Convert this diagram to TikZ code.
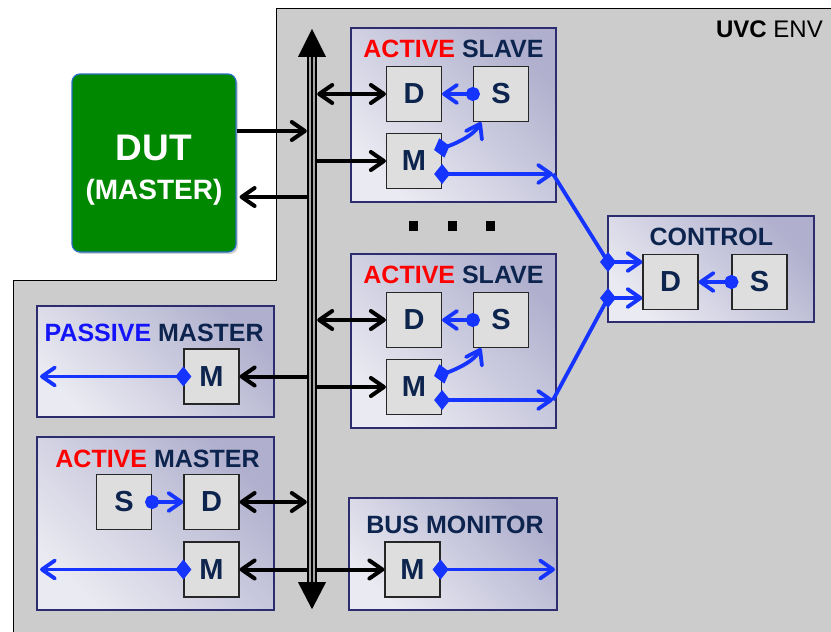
\documentclass[tikz,border=0pt]{standalone}
\usepackage{fontspec}
\setmainfont{Liberation Sans}
\usetikzlibrary{arrows.meta, shadows}
\definecolor{envgray}{RGB}{204,204,204}
\definecolor{navy}{RGB}{12,36,78}
\definecolor{framec}{RGB}{44,44,110}
\definecolor{lavlo}{RGB}{234,234,242}
\definecolor{lavhi}{RGB}{176,176,206}
\definecolor{unitc}{RGB}{222,222,222}
\definecolor{wireblue}{RGB}{22,52,255}
\definecolor{pasblue}{RGB}{20,20,250}
\definecolor{dutgreen}{RGB}{0,136,0}
\definecolor{dutedge}{RGB}{40,110,200}
\tikzset{
  frame/.style={draw=framec, line width=2.5pt, top color=lavhi, bottom color=lavlo, shading angle=-45, inner sep=0pt},
  unit/.style={draw=black!85, line width=1.2pt, fill=unitc, minimum width=55pt, minimum height=55pt, inner sep=0pt, text=navy, font=\fontsize{29}{32}\selectfont\bfseries},
  ttl/.style={anchor=base, inner sep=0pt, text=navy, font=\fontsize{25}{30}\selectfont\bfseries},
  blk/.style={black, line width=4pt},
  blu/.style={wireblue, line width=3.8pt},
  dmdarr/.style={{Diamond[length=16pt,width=20pt]}->},
  dotarr/.style={{Circle[length=14pt]}->}
}

\begin{document}
\begin{tikzpicture}[x=1pt, y=-1pt, >={Straight Barb[length=13pt,width=18pt,round]}]
  \useasboundingbox (0,0) rectangle (831,632);
  \clip (0,0) rectangle (831,632);
  % uvc environment
  \draw[fill=envgray, line width=1pt] (13,640) -- (13,280) -- (276,280) -- (276,8) -- (840,8) -- (840,640) -- cycle;
  \node[anchor=base east, inner sep=0pt, font=\fontsize{24}{28}\selectfont] (env) at (823,37) {\textbf{UVC} ENV};

  \node[draw=dutedge, line width=1.2pt, fill=dutgreen, rounded corners=8pt, minimum width=164pt, minimum height=178pt,
        drop shadow={shadow xshift=2pt, shadow yshift=-2pt, opacity=0.35}] (dut) at (154,163) {};
  \node[anchor=base, inner sep=0pt, text=white, font=\fontsize{37}{40}\selectfont\bfseries] (dutA) at (154,160) {DUT};
  \node[anchor=base, inner sep=0pt, text=white, font=\fontsize{28}{32}\selectfont\bfseries] (dutB) at (154,199) {(MASTER)};

  \node[frame, minimum width=205pt, minimum height=174pt] (slv1) at (453.5,115) {};
  \node[frame, minimum width=205pt, minimum height=174pt] (slv2) at (453.5,341) {};
  \node[frame, minimum width=206pt, minimum height=106pt] (ctrl) at (711,269) {};
  \node[frame, minimum width=237pt, minimum height=111pt] (pmst) at (155.5,361.5) {};
  \node[frame, minimum width=237pt, minimum height=173pt] (amst) at (155.5,523.5) {};
  \node[frame, minimum width=208pt, minimum height=112pt] (bmon) at (453,554) {};

  \node[ttl] (slv1t) at (453.5,57.5) {\textcolor{red}{ACTIVE} SLAVE};
  \node[ttl] (slv2t) at (453.5,283.5) {\textcolor{red}{ACTIVE} SLAVE};
  \node[ttl] (ctrlt) at (711.3,245.5) {CONTROL};
  \node[ttl] (pmstt) at (154.2,341) {\textcolor{pasblue}{PASSIVE} MASTER};
  \node[ttl] (amstt) at (157.5,467) {\textcolor{red}{ACTIVE} MASTER};
  \node[ttl] (bmont) at (455,533.5) {BUS MONITOR};

  \node[unit] (d1) at (414,94) {D};
  \node[unit] (s1) at (501,94) {S};
  \node[unit] (m1) at (414,161) {M};
  \node[unit] (d2) at (414,320) {D};
  \node[unit] (s2) at (501,320) {S};
  \node[unit] (m2) at (414,387) {M};
  \node[unit] (cd) at (670.5,282) {D};
  \node[unit] (cs) at (759.5,282) {S};
  \node[unit] (pm) at (211.5,376.5) {M};
  \node[unit] (as) at (124,502) {S};
  \node[unit] (ad) at (211.5,502) {D};
  \node[unit] (amm) at (211.5,569.5) {M};
  \node[unit] (mon) at (412.5,569.5) {M};

  \foreach \x in {413,452,490}
    \fill (\x-4.5,221) rectangle (\x+4.5,231);

  \node[minimum width=10pt, minimum height=525pt, inner sep=0pt] (bus) at (312,319.5) {};

  \draw[blk, ->] (dut.east |- 0,131) -- (bus.west |- 0,131);
  \draw[blk, ->, shorten >=3pt] (bus.west |- 0,197) -- (dut.east |- 0,197);
  \draw[blk, <->] (bus.east |- d1) -- (d1.west);
  \draw[blk, ->] (bus.east |- m1) -- (m1.west);
  \draw[blk, <->] (bus.east |- d2) -- (d2.west);
  \draw[blk, ->] (bus.east |- m2) -- (m2.west);
  \draw[blk, ->] (bus.west |- pm) -- (pm.east);
  \draw[blk, <->] (ad.east) -- (bus.west |- ad);
  \draw[blk, ->] (bus.west |- amm) -- (amm.east);
  \draw[blk, ->] (bus.east |- mon) -- (mon.west);

  % the bus itself, drawn over the wires
  \draw[line width=10pt] (bus.north) -- (bus.south);
  \draw[line width=6pt, black!35] (bus.north) -- (bus.south);
  \draw[line width=1.6pt] (bus.north) -- (bus.south);
  \fill (bus.north) +(-14,0) -- +(0,-28) -- +(14,0) -- cycle;
  \fill (bus.south) +(-14,0) -- +(0,27) -- +(14,0) -- cycle;

  \coordinate (j1) at (553,174);
  \coordinate (j2) at (553,400);
  \coordinate (c1) at (608,262);
  \coordinate (c2) at (608,298);
  \coordinate (pmout) at (40,376.5);
  \coordinate (ammout) at (40,569.5);
  \coordinate (monout) at (555,569.5);

  \draw[blu, dotarr] ([xshift=7pt]s1.west) -- (d1.east);
  \draw[blu, dmdarr] ([xshift=-8pt,yshift=11pt]m1.east) .. controls +(15,-4) and +(-8,15) .. ([xshift=-20pt]s1.south);
  \draw[blu, dmdarr] ([xshift=-8pt,yshift=-13pt]m1.east) -- (j1);
  \draw[blu, dotarr] ([xshift=7pt]s2.west) -- (d2.east);
  \draw[blu, dmdarr] ([xshift=-8pt,yshift=11pt]m2.east) .. controls +(15,-4) and +(-8,15) .. ([xshift=-20pt]s2.south);
  \draw[blu, dmdarr] ([xshift=-8pt,yshift=-13pt]m2.east) -- (j2);
  \draw[blu] (j1) -- (c1);
  \draw[blu] (j2) -- (c2);
  \draw[blu, dmdarr] ([xshift=-8pt]c1) -- (cd.west |- c1);
  \draw[blu, dmdarr] ([xshift=-8pt]c2) -- (cd.west |- c2);
  \draw[blu, dotarr] ([xshift=7pt]cs.west) -- (cd.east);
  \draw[blu, dmdarr] ([xshift=8pt]pm.west) -- (pmout);
  \draw[blu, dotarr] ([xshift=-7pt]as.east) -- (ad.west);
  \draw[blu, dmdarr] ([xshift=8pt]amm.west) -- (ammout);
  \draw[blu, dmdarr] ([xshift=-8pt]mon.east) -- (monout);
\end{tikzpicture}
\end{document}
